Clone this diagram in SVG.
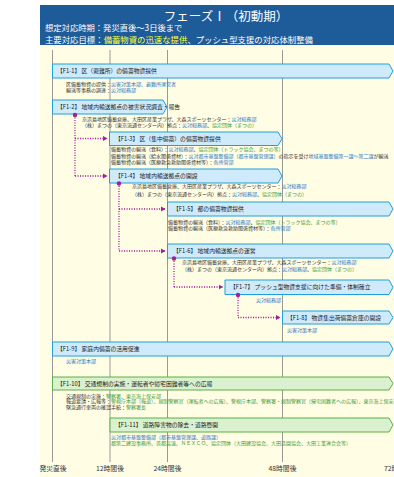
<svg xmlns="http://www.w3.org/2000/svg" width="394" height="477" viewBox="0 0 394 477">
<defs>
<style>
text{font-family:"Noto Sans CJK JP","Noto Sans",sans-serif}
.hd{fill:#fff}
.hl{fill:#ffff3c}
.grid{stroke:#8c8c8c;stroke-width:0.9}
.bb{fill:#cfeafb;stroke:#1ea0e0;stroke-width:1}
.bg{fill:#d9f1cf;stroke:#5cb048;stroke-width:1}
.bl{font-size:5.8px;fill:#222}
.st{font-size:5px;fill:#333}
.b{fill:#2a78c8}
.g{fill:#3c9a36}
.tl{font-size:6.8px;fill:#333;text-anchor:middle}
.con{fill:none;stroke:#a0209a;stroke-width:1.3;stroke-dasharray:1.1 1.4}
.dot{fill:#a0209a}
</style>
<marker id="ah" markerWidth="6" markerHeight="6" refX="4" refY="3" orient="auto" markerUnits="userSpaceOnUse"><path d="M0,0.5 L4.5,3 L0,5.5 Z" fill="#a0209a"/></marker>
</defs>
<rect x="40" y="45" width="354" height="432" fill="#fffde3"/>
<g id="header">
<rect x="40" y="5" width="354" height="40" fill="#1e5c99"/>
<text x="226" y="21" class="hd" font-size="12.5" text-anchor="middle">フェーズⅠ（初動期）</text>
<text x="45" y="31" class="hd" font-size="8.3">想定対応時期：発災直後～3日後まで</text>
<text x="45" y="43" class="hd" font-size="8.4">主要対応目標：<tspan class="hl">備蓄物資の迅速な提供</tspan>、プッシュ型支援の対応体制整備</text>
</g>
<g id="grid">
<line class="grid" x1="52.5" y1="50" x2="52.5" y2="462"/>
<line class="grid" x1="110" y1="50" x2="110" y2="462"/>
<line class="grid" x1="167.5" y1="50" x2="167.5" y2="462"/>
<line class="grid" x1="282.5" y1="50" x2="282.5" y2="462"/>
</g>
<g id="axis">
<text class="tl" x="53" y="470.5">発災直後</text>
<text class="tl" x="110" y="470.5">12時間後</text>
<text class="tl" x="167.5" y="470.5">24時間後</text>
<text class="tl" x="282.5" y="470.5">48時間後</text>
<text class="tl" x="398" y="470.5">72時間後</text>
</g>
<g id="F1-1">
<path class="bb" d="M52.5,64 H389 L393,71 L389,78 H52.5 Z"/>
<text class="bl" x="57" y="73.2">【F1-1】 区（避難所）の備蓄物資提供</text>
<text class="st" x="66" y="86.3">区備蓄物資の提供：<tspan class="b">災害対策本部、避難所運営者</tspan></text>
<text class="st" x="66" y="92">輸送等事務の調達：<tspan class="b">災対総務部</tspan></text>
</g>
<g id="F1-2">
<path class="bb" d="M52.5,100 H163 L167,107 L163,114 H52.5 Z"/>
<text class="bl" x="57" y="109.2">【F1-2】 地域内輸送拠点の被害状況調査・報告</text>
<text class="st" x="82" y="121">京浜島地区備蓄倉庫、大田区産業プラザ、大森スポーツセンター：<tspan class="b">災対総務部</tspan></text>
<text class="st" x="82" y="127">（株）まつの（東京流通センター内）拠点：<tspan class="b">災対総務部</tspan>、<tspan class="g">協定団体（まつの）</tspan></text>
</g>
<g id="F1-3">
<path class="bb" d="M109.5,132 H278 L282,138.75 L278,145.5 H109.5 Z"/>
<text class="bl" x="115" y="140.9">【F1-3】 区（集中備蓄）の備蓄物資提供</text>
<text class="st" x="111" y="151">備蓄物資の輸送（食料）：<tspan class="b">災対総務部</tspan>、<tspan class="g">協定団体（トラック協会、まつの等）</tspan></text>
<text class="st" x="111" y="157.5">備蓄物資の輸送（給水関係資材）：<tspan class="b">災対都市基盤整備部（都市基盤管理課）</tspan>の指示を受け<tspan class="b">地域基盤整備第一課～第二課</tspan>が輸送</text>
<text class="st" x="111" y="164">備蓄物資の輸送（医療救急救助関係資材等）：<tspan class="b">各所管部</tspan></text>
</g>
<g id="F1-4">
<path class="bb" d="M109.5,169 H278 L282,176 L278,183 H109.5 Z"/>
<text class="bl" x="115" y="178.2">【F1-4】 地域内輸送拠点の開設</text>
<text class="st" x="132" y="188">京浜島地区備蓄倉庫、大田区産業プラザ、大森スポーツセンター：<tspan class="b">災対総務部</tspan></text>
<text class="st" x="132" y="195.5">（株）まつの（東京流通センター内）拠点：<tspan class="b">災対総務部</tspan>、<tspan class="g">協定団体（まつの）</tspan></text>
</g>
<g id="F1-5">
<path class="bb" d="M167.5,202 H389 L393,209 L389,216 H167.5 Z"/>
<text class="bl" x="173" y="211.2">【F1-5】 都の備蓄物資提供</text>
<text class="st" x="168" y="223.5">備蓄物資の輸送（食料）：<tspan class="b">災対総務部</tspan>、<tspan class="g">協定団体（トラック協会、まつの等）</tspan></text>
<text class="st" x="168" y="230">備蓄物資の輸送（医療救急救助関係資材等）：<tspan class="b">各所管部</tspan></text>
</g>
<g id="F1-6">
<path class="bb" d="M167.5,244 H389 L393,251 L389,258 H167.5 Z"/>
<text class="bl" x="173" y="253.2">【F1-6】 地域内輸送拠点の運営</text>
<text class="st" x="182" y="264">京浜島地区備蓄倉庫、大田区産業プラザ、大森スポーツセンター：<tspan class="b">災対総務部</tspan></text>
<text class="st" x="182" y="270.5">（株）まつの（東京流通センター内）拠点：<tspan class="b">災対総務部</tspan>、<tspan class="g">協定団体（まつの）</tspan></text>
</g>
<g id="F1-7">
<path class="bb" d="M225,280 H389 L393,287.25 L389,294.5 H225 Z"/>
<text class="bl" x="230" y="289.4">【F1-7】 プッシュ型物資支援に向けた準備・体制確立</text>
<text class="st b" x="281" y="302" text-anchor="end">災対総務部</text>
</g>
<g id="F1-8">
<path class="bb" d="M282.5,311 H389 L393,317.5 L389,324 H282.5 Z"/>
<text class="bl" x="287" y="319.6">【F1-8】 物資集出荷備蓄倉庫の開設</text>
<text class="st b" x="287" y="332">災害対策本部</text>
</g>
<g id="F1-9">
<path class="bb" d="M52.5,342 H389 L393,349 L389,356 H52.5 Z"/>
<text class="bl" x="57" y="351.2">【F1-9】 家庭内備蓄の活用促進</text>
<text class="st b" x="66" y="363">災害対策本部</text>
</g>
<g id="F1-10">
<path class="bg" d="M52.5,377 H389 L393,383.5 L389,390 H52.5 Z"/>
<text class="bl" x="57" y="385.6">【F1-10】 交通規制の実施・運転者や帰宅困難者等への広報</text>
<text class="st" x="66" y="397.5">交通規制の実施：<tspan class="g">警察署、東京海上保安部</tspan></text>
<text class="st" x="66" y="403">報道要請・広報等：<tspan class="g">警視庁本部（報道）、規制警察官（運転者への広報）、警視庁本部、警察署・規制警察官（帰宅困難者への広報）、東京海上保安部（海</tspan></text>
<text class="st" x="66" y="408.5">緊急通行車両の確認手続：<tspan class="g">警察署長</tspan></text>
</g>
<g id="F1-11">
<path class="bg" d="M110,418 H389 L393,425 L389,432 H110 Z"/>
<text class="bl" x="115" y="427.2">【F1-11】 道路障害物の除去・道路啓開</text>
<text class="st b" x="111" y="439">災対都市基盤整備部（都市基盤管理課、道路課）</text>
<text class="st g" x="111" y="445">都第二建設事務所、首都高速、ＮＥＸＣＯ、協定団体（大田建設協会、大田造園協会、大田工業連合会等）</text>
</g>
<g id="connectors">
<path class="con" d="M75,115 V176"/>
<path class="con" d="M75,138.5 H107" marker-end="url(#ah)"/>
<path class="con" d="M75,176 H107" marker-end="url(#ah)"/>
<path class="con" d="M119,183.5 V251"/>
<path class="con" d="M119,209 H165" marker-end="url(#ah)"/>
<path class="con" d="M119,251 H165" marker-end="url(#ah)"/>
<path class="con" d="M174,258.5 V287"/>
<path class="con" d="M174,287 H222.5" marker-end="url(#ah)"/>
<path class="con" d="M238,295 V317.5"/>
<path class="con" d="M238,317.5 H280" marker-end="url(#ah)"/>
<circle class="dot" cx="75" cy="115" r="2.2"/>
<circle class="dot" cx="119" cy="183.5" r="2.2"/>
<circle class="dot" cx="174" cy="258.5" r="2.2"/>
<circle class="dot" cx="238" cy="295" r="2.2"/>
</g>
</svg>
